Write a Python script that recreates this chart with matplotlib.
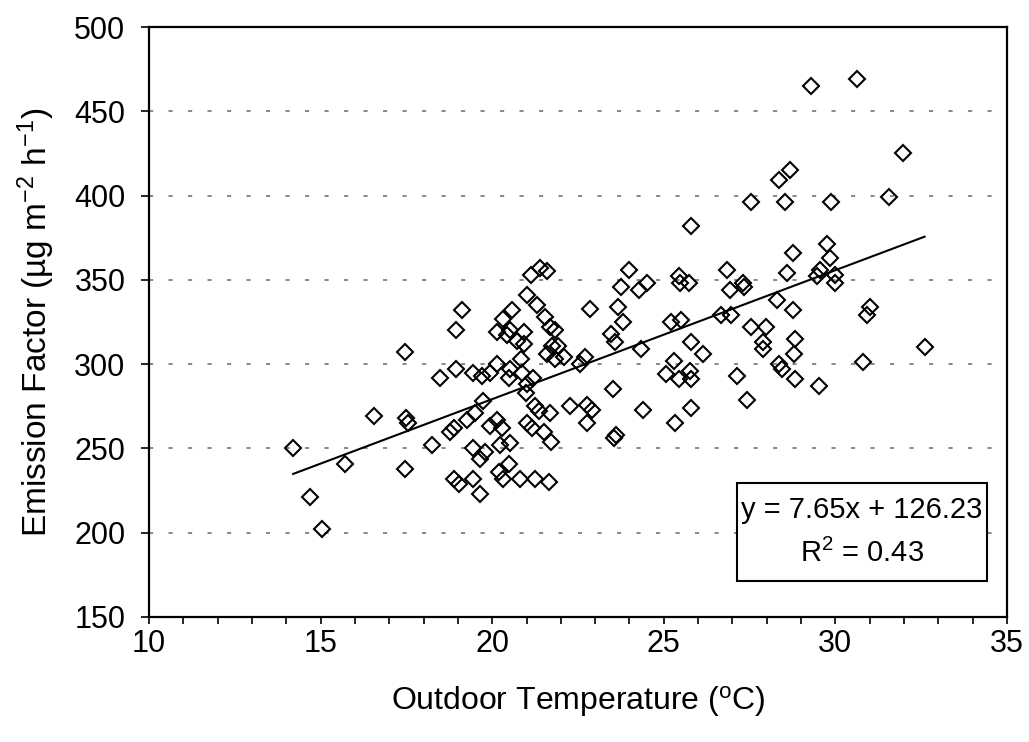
import matplotlib
matplotlib.use("Agg")
import matplotlib.pyplot as plt
from matplotlib.patches import Rectangle
from matplotlib.ticker import MultipleLocator
import numpy as np

plt.rcParams["font.family"] = ["Liberation Sans", "DejaVu Sans"]

# outdoor temperature (deg C) and emission factor
temperature = [
    14.2, 14.7, 15.05, 15.7, 16.57, 17.45, 17.45, 17.49, 17.56, 18.26,
    18.48, 18.96, 19.12, 18.95, 18.76, 18.89, 18.89, 19.02, 19.43, 19.43,
    19.26, 19.50, 19.72, 19.70, 19.65, 19.80, 19.43, 19.65, 19.94, 20.14,
    20.14, 20.31, 20.59, 20.43, 20.53, 20.94, 20.93, 20.84, 20.52, 20.48,
    20.86, 21.20, 21.01, 20.99, 20.14, 20.28, 19.94, 20.23, 20.52, 20.48,
    20.21, 20.31, 20.82, 21.25, 21.66, 21.25, 21.35, 21.69, 21.01, 21.16,
    21.52, 21.72, 22.27, 21.55, 21.69, 21.84, 21.74, 21.93, 21.59, 21.84,
    22.08, 22.57, 21.30, 21.01, 21.13, 21.40, 21.59, 20.72,
    29.29, 30.63, 31.96, 28.69, 28.37, 27.54, 28.54, 29.87, 31.57, 25.79,
    28.76, 29.75, 29.83, 28.59, 29.56, 29.45, 30.00, 30.00, 28.30, 28.76,
    31.00, 30.92, 23.99, 23.76, 24.27, 24.51, 25.45, 25.48, 25.73, 26.84,
    26.94, 27.30, 27.33, 22.84, 23.66, 23.81, 23.46, 23.57, 22.71, 24.34,
    25.21, 25.51, 26.66, 26.96, 25.79, 26.14, 27.54, 27.99, 27.89, 27.89,
    28.81, 28.78, 32.60, 30.80, 25.31, 25.07, 25.43, 25.77, 25.80, 27.13,
    28.35, 28.45, 28.81, 29.51, 27.42, 23.51, 22.76, 22.90, 22.76, 24.38,
    25.80, 25.32, 23.62, 23.54,
]
emission = [
    250, 221, 202, 241, 269, 307, 238, 268, 265, 252,
    292, 320, 332, 297, 260, 262, 232, 229, 295, 250,
    267, 271, 278, 293, 244, 248, 232, 223, 295, 300,
    319, 327, 332, 317, 320, 319, 312, 303, 297, 292,
    295, 292, 288, 283, 267, 262, 263, 252, 253, 241,
    236, 232, 232, 232, 230, 275, 272, 271, 265, 262,
    260, 254, 275, 328, 322, 320, 311, 311, 306, 303,
    304, 300, 335, 341, 353, 357, 355, 314,
    465, 469, 425, 415, 409, 396, 396, 396, 399, 382,
    366, 371, 363, 354, 356, 352, 353, 348, 338, 332,
    334, 329, 356, 346, 344, 348, 352, 348, 348, 356,
    344, 348, 346, 333, 334, 325, 318, 313, 304, 309,
    325, 326, 329, 329, 313, 306, 322, 322, 313, 309,
    315, 306, 310, 301, 302, 294, 291, 296, 291, 293,
    300, 297, 291, 287, 279, 285, 276, 273, 265, 273,
    274, 265, 258, 256,
]

slope = 7.65
intercept = 126.23
r_squared = 0.43

fig, ax = plt.subplots(figsize=(10.29, 7.42), dpi=100)
fig.subplots_adjust(left=0.1448, right=0.9786, top=0.9636, bottom=0.1685)

ax.plot(temperature, emission, linestyle="none", marker="D", markersize=7.8,
        markerfacecolor="none", markeredgecolor="black",
        markeredgewidth=1.5, zorder=3)

fit_x = np.array([min(temperature), max(temperature)])
ax.plot(fit_x, slope * fit_x + intercept, color="black", linewidth=1.5, zorder=4)

ax.set_xlim(10, 35)
ax.set_ylim(150, 500)
ax.xaxis.set_major_locator(MultipleLocator(5))
ax.xaxis.set_minor_locator(MultipleLocator(1))
ax.yaxis.set_major_locator(MultipleLocator(50))

ax.yaxis.grid(True, color="#7f7f7f", linewidth=1.3, dashes=(2.3, 8.5))
ax.set_axisbelow(True)

for spine in ax.spines.values():
    spine.set_linewidth(1.6)
    spine.set_color("black")

ax.tick_params(axis="x", which="both", direction="out", length=5, width=1.2,
               labelsize=22, pad=4)
ax.tick_params(axis="y", direction="out", length=6, width=1.2,
               labelsize=22, pad=11)

ax.set_xlabel(r"Outdoor Temperature ($\mathregular{^{o}}$C)", fontsize=23,
              labelpad=18)
ax.set_ylabel(r"Emission Factor (µg m$\mathregular{^{-2}}$ h$\mathregular{^{-1}}$)",
              fontsize=24, labelpad=12)

ax.add_patch(Rectangle((0.685, 0.061), 0.2914, 0.166, transform=ax.transAxes,
                       facecolor="white", edgecolor="black", linewidth=1.5,
                       zorder=5))
ax.text(0.831, 0.181, f"y = {slope:.2f}x + {intercept:.2f}",
        transform=ax.transAxes, ha="center", va="center", fontsize=21, zorder=6)
ax.text(0.831, 0.108, r"R$\mathregular{^2}$" + f" = {r_squared:.2f}",
        transform=ax.transAxes, ha="center", va="center", fontsize=21, zorder=6)

fig.savefig("out.png", dpi=100)
